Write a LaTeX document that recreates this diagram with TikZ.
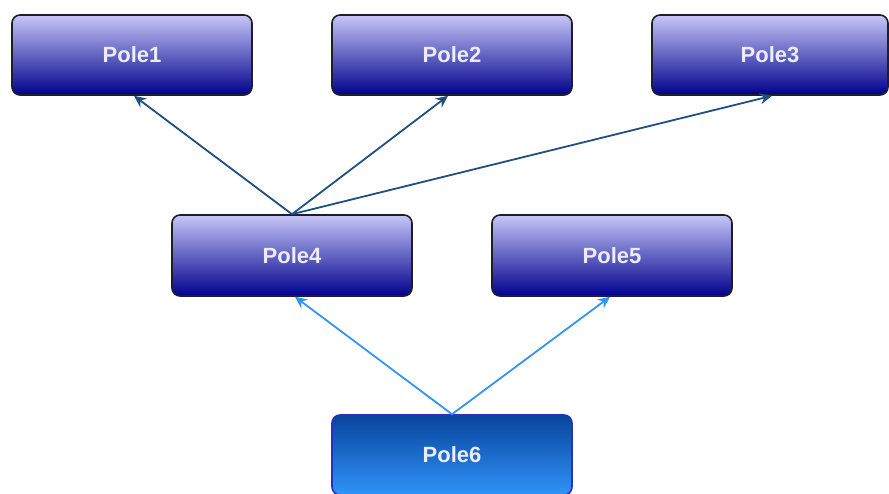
\documentclass[tikz,border=0pt]{standalone}
\usepackage{fontspec}
\setmainfont{Liberation Sans}
\usetikzlibrary{arrows.meta}
\definecolor{boxtop}{RGB}{198,198,248}
\definecolor{boxbot}{RGB}{0,0,140}
\definecolor{boxline}{RGB}{30,30,40}
\definecolor{sixtop}{RGB}{8,68,158}
\definecolor{sixbot}{RGB}{48,148,248}
\definecolor{sixline}{RGB}{40,50,190}
\definecolor{txt}{RGB}{236,236,252}
\definecolor{darkarrow}{RGB}{30,80,130}
\definecolor{lightarrow}{RGB}{50,150,240}
\tikzset{
  polebox/.style={draw=boxline, line width=1.6pt, rounded corners=8pt,
    top color=boxtop, bottom color=boxbot, minimum width=240pt,
    minimum height=80pt, inner sep=0pt, text=txt,
    font=\fontsize{22pt}{24pt}\selectfont\bfseries},
  sixbox/.style={polebox, draw=sixline, top color=sixtop, bottom color=sixbot},
  darr/.style={draw=darkarrow, line width=1.8pt, -{Stealth[length=12pt,width=11pt]}},
  larr/.style={draw=lightarrow, line width=1.8pt, -{Stealth[length=12pt,width=11pt]}}
}
\begin{document}
\begin{tikzpicture}[x=1pt,y=-1pt]
\useasboundingbox (0,0) rectangle (889,493);
\node[polebox] (p1) at (132,55) {Pole1};
\node[polebox] (p2) at (452,55) {Pole2};
\node[polebox, minimum width=236pt] (p3) at (770,55) {Pole3};
\node[polebox, minimum height=81pt] (p4) at (292,255.5) {Pole4};
\node[polebox, minimum height=81pt] (p5) at (612,255.5) {Pole5};
\node[sixbox] (p6) at (452,455) {Pole6};
\draw[darr] (p4.north) -- ([xshift=2pt]p1.south);
\draw[darr] (p4.north) -- ([xshift=-4pt]p2.south);
\draw[darr] (p4.north) -- ([xshift=2pt]p3.south);
\draw[larr] (p6.north) -- ([xshift=3pt]p4.south);
\draw[larr] (p6.north) -- ([xshift=-2pt]p5.south);
\end{tikzpicture}
\end{document}
